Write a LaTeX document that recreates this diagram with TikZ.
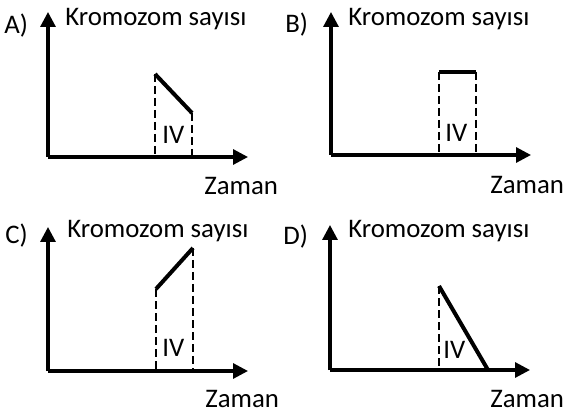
\documentclass[tikz,border=0pt]{standalone}
\usepackage{fontspec}
\setmainfont{Carlito}
\usetikzlibrary{arrows.meta}
\begin{document}
\begin{tikzpicture}[x=0.5pt,y=-0.5pt,
        axis/.style={-{Triangle[length=7.5pt,width=7.5pt]},line width=1.6pt},
        curve/.style={line width=2pt},
        guide/.style={line width=0.9pt,dash pattern=on 4pt off 2pt},
        lbl/.style={anchor=base west,inner sep=0pt,font=\fontsize{13.4}{16}\selectfont}]
    \useasboundingbox (0,0) rectangle (563,417);

    % A
    \coordinate (OA) at (48,157);
    \coordinate (YA) at (48,12);
    \coordinate (XA) at (248,157);
    \coordinate (A1) at (155,74);
    \coordinate (A2) at (192,113);
    \coordinate (A1b) at (155,157);
    \coordinate (A2b) at (192,157);
    \node[lbl] (LA) at (4,34) {A)};
    \node[lbl] (KA) at (65,26) {Kromozom sayısı};
    \node[lbl] (ZA) at (204,195) {Zaman};
    \node[lbl] (IA) at (162,144) {IV};
    \draw[axis] (OA) -- (YA);
    \draw[axis] (OA) -- (XA);
    \draw[guide] (A1) -- (A1b);
    \draw[guide] (A2) -- (A2b);
    \draw[curve] (A1) -- (A2);

    % B
    \coordinate (OB) at (331,155);
    \coordinate (YB) at (331,12);
    \coordinate (XB) at (531,155);
    \coordinate (B1) at (439,72);
    \coordinate (B2) at (476,72);
    \coordinate (B1b) at (439,155);
    \coordinate (B2b) at (476,155);
    \node[lbl] (LB) at (285,33) {B)};
    \node[lbl] (KB) at (348,26) {Kromozom sayısı};
    \node[lbl] (ZB) at (490,194) {Zaman};
    \node[lbl] (IB) at (445,142) {IV};
    \draw[axis] (OB) -- (YB);
    \draw[axis] (OB) -- (XB);
    \draw[guide] (B1) -- (B1b);
    \draw[guide] (B2) -- (B2b);
    \draw[curve] (B1) -- (B2);

    % C
    \coordinate (OC) at (48,371);
    \coordinate (YC) at (48,227);
    \coordinate (XC) at (248,371);
    \coordinate (C1) at (156,289);
    \coordinate (C2) at (193,248);
    \coordinate (C1b) at (156,371);
    \coordinate (C2b) at (193,371);
    \node[lbl] (LC) at (5,243) {C)};
    \node[lbl] (KC) at (67,238) {Kromozom sayısı};
    \node[lbl] (ZC) at (205,408) {Zaman};
    \node[lbl] (IC) at (162,357) {IV};
    \draw[axis] (OC) -- (YC);
    \draw[axis] (OC) -- (XC);
    \draw[guide] (C1) -- (C1b);
    \draw[guide] (C2) -- (C2b);
    \draw[curve] (C1) -- (C2);

    % D
    \coordinate (OD) at (330,370);
    \coordinate (YD) at (330,225);
    \coordinate (XD) at (530,370);
    \coordinate (D1) at (439,286);
    \coordinate (D2) at (488,370);
    \coordinate (D1b) at (439,370);
    \node[lbl] (LD) at (283,245) {D)};
    \node[lbl] (KD) at (348,238) {Kromozom sayısı};
    \node[lbl] (ZD) at (490,407) {Zaman};
    \node[lbl] (ID) at (443,358) {IV};
    \draw[axis] (OD) -- (YD);
    \draw[axis] (OD) -- (XD);
    \draw[guide] (D1) -- (D1b);
    \draw[curve] (D1) -- (D2);

\end{tikzpicture}
\end{document}
